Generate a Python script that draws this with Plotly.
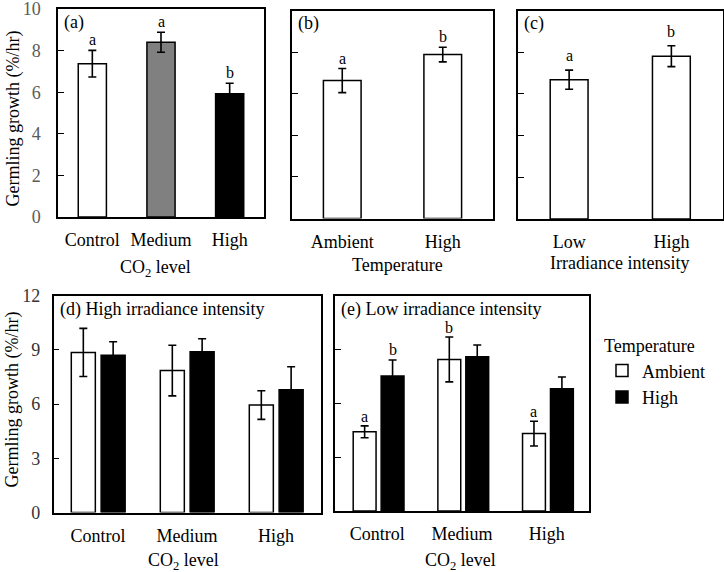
import plotly.graph_objects as go

# ---------------- data ----------------
a_cats = ["Control", "Medium", "High"]
a_vals = [7.37, 8.40, 5.93]
a_err = [0.64, 0.48, 0.50]
a_letters = ["a", "a", "b"]
a_colors = ["white", "#808080", "black"]

b_cats = ["Ambient", "High"]
b_vals = [6.63, 7.88]
b_err = [0.58, 0.35]
b_letters = ["a", "b"]

c_cats = ["Low", "High"]
c_vals = [6.68, 7.81]
c_err = [0.46, 0.50]
c_letters = ["a", "b"]

de_cats = ["Control", "Medium", "High"]
d_amb = [8.85, 7.85, 5.94]
d_amb_err = [1.33, 1.40, 0.79]
d_high = [8.70, 8.89, 6.79]
d_high_err = [0.74, 0.72, 1.27]

e_amb = [4.41, 8.44, 4.31]
e_amb_err = [0.33, 1.25, 0.69]
e_high = [7.52, 8.59, 6.81]
e_high_err = [0.89, 0.65, 0.65]
e_amb_letters = ["a", "b", "a"]
e_high_letters = ["b", "", ""]

FONT = "Liberation Serif, Times New Roman, serif"
W, H = 724, 572


def dom_x(x0, x1):
    return [x0 / W, x1 / W]


def dom_y(y0, y1):
    return [1 - y1 / H, 1 - y0 / H]


fig = go.Figure()
line = dict(color="black", width=1.5)
errstyle = dict(type="data", visible=True, color="black", thickness=1.6, width=4)


def add_bar(xa, ya, cats, vals, errs, colors, width, offset, name, showlegend, group):
    fig.add_trace(go.Bar(
        x=cats, y=vals, xaxis=xa, yaxis=ya,
        marker=dict(color=colors, line=line),
        width=width, offset=offset,
        error_y=dict(array=errs, **errstyle),
        name=name, showlegend=showlegend, legendgroup=group,
    ))


annots = []


def letters(xa, ya, vals, errs, lets, width, offset, yshift):
    for i, (v, e, l) in enumerate(zip(vals, errs, lets)):
        if not l:
            continue
        annots.append(dict(
            x=i + offset + width / 2, y=v + e, xref=xa, yref=ya,
            text=l, showarrow=False, yanchor="bottom", yshift=yshift,
            font=dict(family=FONT, size=16, color="black"),
        ))


# (a)
add_bar("x", "y", a_cats, a_vals, a_err, a_colors, 0.41, -0.205, "a", False, "a")
letters("x", "y", a_vals, a_err, a_letters, 0.41, -0.205, 0)
# (b)
add_bar("x2", "y2", b_cats, b_vals, b_err, "white", 0.375, -0.1875, "b", False, "b")
letters("x2", "y2", b_vals, b_err, b_letters, 0.375, -0.1875, 0)
# (c)
add_bar("x3", "y3", c_cats, c_vals, c_err, "white", 0.37, -0.185, "c", False, "c")
letters("x3", "y3", c_vals, c_err, c_letters, 0.37, -0.185, 4)
# (d)
add_bar("x4", "y4", de_cats, d_amb, d_amb_err, "white", 0.27, -0.30, "Ambient", True, "amb")
add_bar("x4", "y4", de_cats, d_high, d_high_err, "black", 0.27, 0.035, "High", True, "high")
# (e)
add_bar("x5", "y5", de_cats, e_amb, e_amb_err, "white", 0.27, -0.285, "Ambient", False, "amb")
add_bar("x5", "y5", de_cats, e_high, e_high_err, "black", 0.27, 0.045, "High", False, "high")
letters("x5", "y5", e_amb, e_amb_err, e_amb_letters, 0.27, -0.285, -1)
letters("x5", "y5", e_high, e_high_err, e_high_letters, 0.27, 0.045, 0)

# panel labels
panel_labels = [("x", "y", "(a)"), ("x2", "y2", "(b)"), ("x3", "y3", "(c)"),
                ("x4", "y4", "(d) High irradiance intensity"),
                ("x5", "y5", "(e) Low irradiance intensity")]
for xa, ya, t in panel_labels:
    annots.append(dict(
        x=0, y=1, xref=xa + " domain", yref=ya + " domain", text=t,
        showarrow=False, xanchor="left", yanchor="top", xshift=4, yshift=-1,
        font=dict(family=FONT, size=18, color="black"),
    ))

# axis titles (placed in paper coordinates)
ytitle = "Germling growth (%/hr)"
axis_titles = [
    ("CO<sub>2</sub> level", 155.5, 268, 0),
    ("Temperature", 397.5, 265, 0),
    ("Irradiance intensity", 619, 263, 0),
    ("CO<sub>2</sub> level", 183.5, 561, 0),
    ("CO<sub>2</sub> level", 460, 561, 0),
    (ytitle, 13, 118.5, -90),
    (ytitle, 11.5, 400, -90),
]
for t, px, py, ang in axis_titles:
    annots.append(dict(
        x=px / W, y=1 - py / H, xref="paper", yref="paper", text=t,
        showarrow=False, xanchor="center", yanchor="middle", textangle=ang,
        font=dict(family=FONT, size=18, color="black"),
    ))

tickfont = dict(family=FONT, size=18, color="black")


def xaxis(domain, anchor):
    return dict(domain=domain, anchor=anchor, showline=True, mirror=True,
                linecolor="black", linewidth=1.5, ticks="", showgrid=False,
                tickfont=tickfont, ticklabelstandoff=6, automargin=False,
                zeroline=False, ticklabeloverflow="allow")


def yaxis(domain, anchor, rng, dtick, showlabels, labelcolor, standoff):
    return dict(domain=domain, anchor=anchor, range=rng, dtick=dtick,
                showline=True, mirror=True, linecolor="black", linewidth=1.5,
                ticks="inside", ticklen=6, tickwidth=1, tickcolor="black",
                showgrid=False, zeroline=False, showticklabels=showlabels,
                tickfont=dict(family=FONT, size=18, color=labelcolor),
                ticklabelstandoff=standoff, automargin=False,
                ticklabeloverflow="allow")


fig.update_layout(
    width=W, height=H,
    margin=dict(l=0, r=0, t=0, b=0),
    paper_bgcolor="white", plot_bgcolor="white",
    font=dict(family=FONT, size=18, color="black"),
    barmode="overlay",
    xaxis=xaxis(dom_x(58, 264), "y"),
    yaxis=yaxis(dom_y(9, 217), "x", [0, 10], 2, True, "#5a5a5a", 12),
    xaxis2=xaxis(dom_x(292, 493), "y2"),
    yaxis2=yaxis(dom_y(10.5, 218.5), "x2", [0, 10], 2, False, "black", 10),
    xaxis3=xaxis(dom_x(518, 722.5), "y3"),
    yaxis3=yaxis(dom_y(10.5, 219), "x3", [0, 10], 2, False, "black", 10),
    xaxis4=xaxis(dom_x(53.5, 320.5), "y4"),
    yaxis4=yaxis(dom_y(295.5, 512.5), "x4", [0, 12], 3, True, "#333333", 8),
    xaxis5=xaxis(dom_x(335, 589), "y5"),
    yaxis5=yaxis(dom_y(295.5, 511), "x5", [0, 12], 3, False, "black", 10),
    legend=dict(x=602 / W, y=1 - 329 / H, xanchor="left", yanchor="top",
                title=dict(text="Temperature", font=dict(family=FONT, size=18)),
                font=dict(family=FONT, size=18, color="black"),
                bgcolor="rgba(0,0,0,0)", itemwidth=30, tracegroupgap=0),
    annotations=annots,
)

fig.write_html("out.html",
               config={"displayModeBar": False},
               post_script="document.body.style.margin='0px';"
                           "document.body.style.overflow='hidden';")
